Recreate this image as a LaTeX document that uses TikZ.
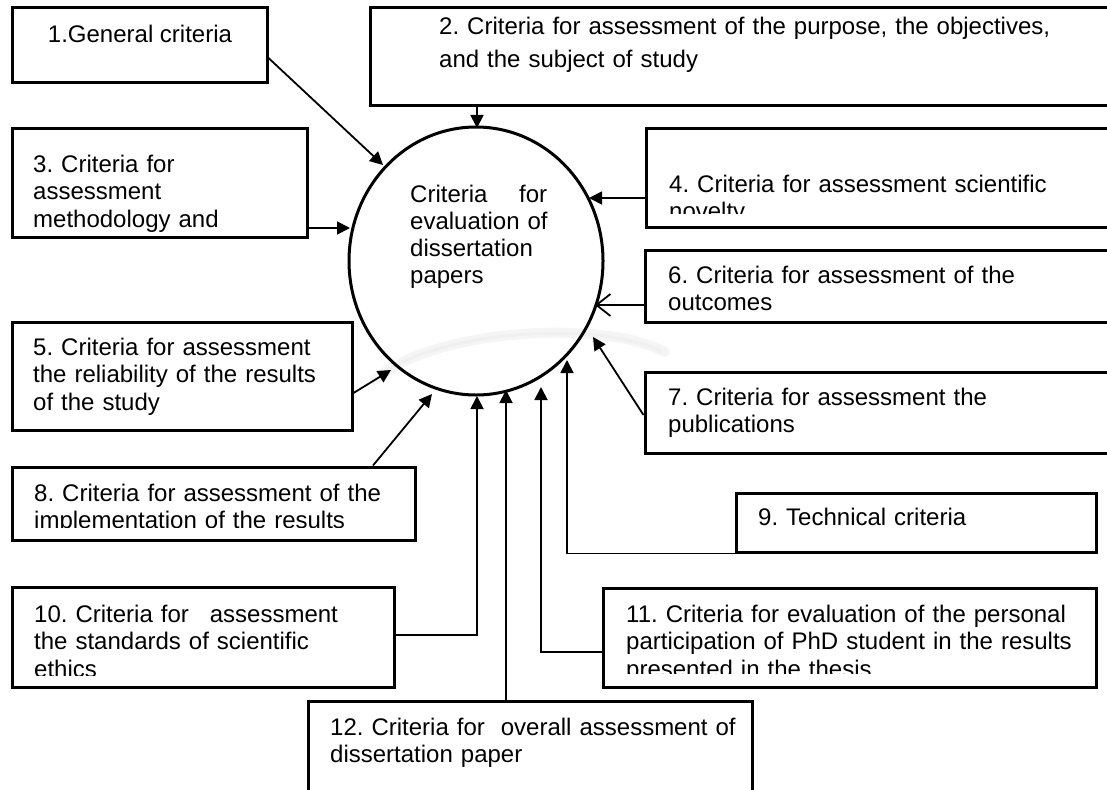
\documentclass[tikz,border=0pt]{standalone}
\usepackage{fontspec}
\setmainfont{Liberation Sans}
\usetikzlibrary{arrows.meta,shapes.geometric}
\begin{document}
\frenchspacing
\begin{tikzpicture}[x=1pt,y=-1pt,
  box/.style={draw, line width=3pt, inner sep=0pt, rectangle},
  txt/.style={anchor=base west, inner sep=0pt, text width=720pt, align=left, font=\fontsize{24}{27.6}\selectfont\frenchspacing},
  conn/.style={line width=1.8pt},
  arr/.style={conn, -{Triangle[length=13pt,width=13pt]}},
  openarr/.style={conn, -{Straight Barb[length=14pt,width=22pt]}},
  shadow/.style={line width=10pt, black!4, line cap=round}]
\clip (0,0) rectangle (1107,789);
\fill[white] (0,0) rectangle (1107,789);
% faint grey smudge
\draw[shadow] (375,380) .. controls (430,330) and (600,318) .. (665,352);
\draw[line width=3pt, black!6, line cap=round] (378,378) .. controls (430,331) and (600,319) .. (662,352);

% boxes
\node[box, minimum width=255pt, minimum height=75pt]  (b1)  at (139.5,45.5) {};
\node[box, minimum width=745pt, minimum height=98pt]  (b2)  at (742.5,57) {};
\node[box, minimum width=295pt, minimum height=109pt] (b3)  at (159.5,182.5) {};
\node[box, minimum width=469pt, minimum height=99pt]  (b4)  at (880.5,177.5) {};
\node[box, minimum width=340pt, minimum height=108pt] (b5)  at (182,376) {};
\node[box, minimum width=470pt, minimum height=72pt]  (b6)  at (880,286) {};
\node[box, minimum width=470pt, minimum height=81pt]  (b7)  at (880,412.5) {};
\node[box, minimum width=403pt, minimum height=73pt]  (b8)  at (213.5,503.5) {};
\node[box, minimum width=360pt, minimum height=59pt]  (b9)  at (916,522.5) {};
\node[box, minimum width=382pt, minimum height=100pt] (b10) at (203,637) {};
\node[box, minimum width=493pt, minimum height=99pt]  (b11) at (849.5,637.5) {};
\node[box, minimum width=444pt, minimum height=109pt] (b12) at (530,755.5) {};

% central ellipse
\node[draw, ellipse, line width=3pt, minimum width=254pt, minimum height=268pt, inner sep=0pt] (c) at (476,261) {};
\node[txt, text width=137pt, font=\fontsize{24}{27}\selectfont] (tc) at (410,202)
  {\mbox{Criteria}\hfill\mbox{for}\\\mbox{evaluation of}\\\mbox{dissertation}\\\mbox{papers}};

% texts
\node[anchor=base, inner sep=0pt, font=\fontsize{24}{27.6}\selectfont] (t1) at (140,43) {1.General criteria};
\node[txt, font=\fontsize{24}{33}\selectfont] (t2) at (439,35)
  {2. Criteria for assessment of the purpose, the objectives,\\and the subject of study};
\node[txt] (t3) at (33,172) {3. Criteria for\\assessment\\methodology and};
\begin{scope}
  \clip (646,128) rectangle (1107,213);
  \node[txt] (t4) at (669,192) {4. Criteria for assessment scientific\\novelty};
\end{scope}
\node[txt] (t5) at (33,355) {5. Criteria for assessment\\the reliability of the results\\of the study};
\begin{scope}
  \clip (645,250) rectangle (1107,311);
  \node[txt] (t6) at (668,283) {6. Criteria for assessment of the\\outcomes};
\end{scope}
\node[txt] (t7) at (668,405) {7. Criteria for assessment the\\publications};
\begin{scope}
  \clip (12,467) rectangle (415,527);
  \node[txt] (t8) at (34,501) {8. Criteria for assessment of the\\implementation of the results};
\end{scope}
\node[txt] (t9) at (758,525) {9. Technical criteria};
\begin{scope}
  \clip (12,587) rectangle (394,675);
  \node[txt] (t10) at (34,622) {10. Criteria for\hspace{13pt} assessment\\the standards of scientific\\ethics};
\end{scope}
\begin{scope}
  \clip (603,588) rectangle (1096,673);
  \node[txt] (t11) at (626,622) {11. Criteria for evaluation of the personal\\participation of PhD student in the results\\presented in the thesis};
\end{scope}
\node[txt] (t12) at (330,735) {12. Criteria for\hspace{8pt} overall assessment of\\dissertation paper};

% connector end points on the ellipse
\coordinate (e1) at (383,165);
\coordinate (e2) at (477,128);
\coordinate (e3) at (350,228);
\coordinate (e4) at (589,198);
\coordinate (e5) at (391,370);
\coordinate (e6) at (595,305);
\coordinate (e7) at (593,337);
\coordinate (e8) at (432,394);
\coordinate (e9) at (567,360);
\coordinate (e10) at (477,396);
\coordinate (e11) at (541,387);
\coordinate (e12) at (506,390);

% connectors
\draw[arr] ([yshift=-12.5pt]b1.east) -- (e1);
\draw[arr] (e2 |- b2.south) -- (e2);
\draw[arr] (b3.east |- e3) -- (e3);
\draw[arr] (b4.west |- e4) -- (e4);
\draw[arr] ([yshift=-17pt]b5.east) -- (e5);
\draw[openarr] (b6.west |- e6) -- (e6);
\draw[arr] ([yshift=-2.5pt]b7.west) -- (e7);
\draw[arr] ([xshift=159.5pt]b8.north) -- (e8);
\draw[arr] (b9.south west) -| (e9);
\draw[arr] ([yshift=2pt]b10.east) -| (e10);
\draw[arr] ([yshift=-14.5pt]b11.west) -| (e11);
\draw[arr] (e12 |- b12.north) -- (e12);
\end{tikzpicture}
\end{document}
